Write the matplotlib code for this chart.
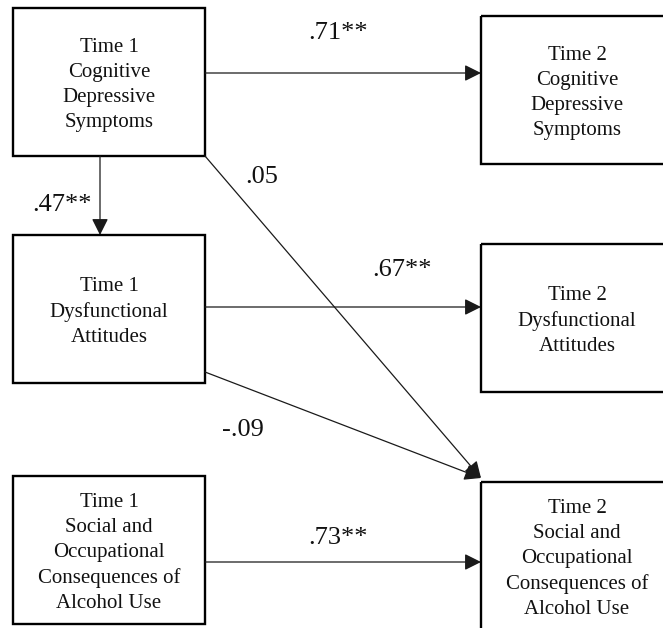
import matplotlib
matplotlib.use('Agg')
import matplotlib.pyplot as plt
from matplotlib.patches import Rectangle, FancyArrowPatch

# box texts
box_names = ['t1_cds', 't2_cds', 't1_da', 't2_da', 't1_soc', 't2_soc']
box_labels = ['Time 1\nCognitive\nDepressive\nSymptoms',
              'Time 2\nCognitive\nDepressive\nSymptoms',
              'Time 1\nDysfunctional\nAttitudes',
              'Time 2\nDysfunctional\nAttitudes',
              'Time 1\nSocial and\nOccupational\nConsequences of\nAlcohol Use',
              'Time 2\nSocial and\nOccupational\nConsequences of\nAlcohol Use']

# paths and their coefficients
path_from = ['t1_cds', 't1_cds', 't1_cds', 't1_da', 't1_da', 't1_soc']
path_to = ['t2_cds', 't1_da', 't2_soc', 't2_da', 't2_soc', 't2_soc']
path_coefs = ['.71**', '.47**', '.05', '.67**', '-.09', '.73**']

# layout in pixels (left, top), all boxes same size
W, H = 192, 148
layout = {'t1_cds': (13, 8), 't2_cds': (481, 16),
          't1_da': (13, 235), 't2_da': (481, 244),
          't1_soc': (13, 476), 't2_soc': (481, 482)}
label_pos = [(338, 33), (62, 205), (262, 177), (402, 270), (243, 430), (338, 538)]

fig = plt.figure(figsize=(6.63, 6.28), dpi=100)
ax = fig.add_axes([0, 0, 1, 1])
ax.set_xlim(0, 663)
ax.set_ylim(628, 0)
ax.axis('off')

serif = 'Liberation Serif'

for name, text in zip(box_names, box_labels):
    x, y = layout[name]
    ax.add_patch(Rectangle((x, y), W, H, fill=False, ec='black', lw=1.7))
    ax.text(x + W / 2, y + H / 2 + 3, text, ha='center', va='center',
            fontsize=15, family=serif, linespacing=1.42, color='#111111')

for src, dst in zip(path_from, path_to):
    sx, sy = layout[src]
    dx, dy = layout[dst]
    if src == 't1_cds' and dst == 't1_da':
        p0 = (sx + 87, sy + H)
        p1 = (sx + 87, dy)
    elif dst == 't2_soc' and src != 't1_soc':
        # diagonal from the right side of source to top-left of target
        yy = sy + H if src == 't1_cds' else sy + 137
        p0 = (sx + W, yy)
        p1 = (dx, dy - 4)
    else:
        yy = {'t1_cds': 73, 't1_da': 307, 't1_soc': 562}[src]
        p0 = (sx + W, yy)
        p1 = (dx, yy)
    arr = FancyArrowPatch(p0, p1, arrowstyle='-|>,head_length=0.5,head_width=0.25',
                          mutation_scale=20, lw=0.9, color='#1a1a1a',
                          shrinkA=0, shrinkB=0)
    ax.add_patch(arr)

for coef, (lx, ly) in zip(path_coefs, label_pos):
    ax.text(lx, ly, coef, ha='center', va='center', fontsize=19,
            family=serif, color='#111111')

fig.savefig('out.png', dpi=100)
